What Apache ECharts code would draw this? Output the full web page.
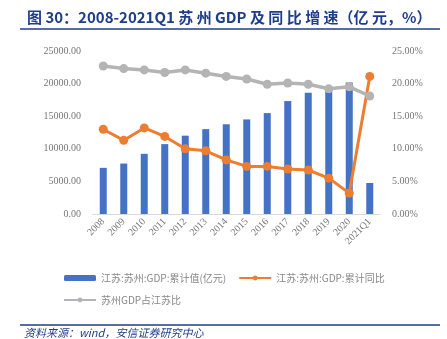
<!DOCTYPE html>
<html><head><meta charset="utf-8">
<script src="https://cdn.jsdelivr.net/npm/echarts@6/dist/echarts.min.js"></script>
<style>html,body{margin:0;padding:0;background:#fff}#c{width:447px;height:339px}</style>
</head><body><div id="c"></div>
<script>
const categories = ['2008','2009','2010','2011','2012','2013','2014','2015','2016','2017','2018','2019','2020','2021Q1'];
const gdpValues = [7078, 7740, 9229, 10717, 12012, 13016, 13761, 14504, 15475, 17320, 18597, 19236, 20171, 4759];
const gdpGrowth = [13.0, 11.3, 13.2, 11.9, 10.0, 9.7, 8.3, 7.3, 7.3, 6.9, 6.75, 5.5, 3.2, 21.1];
const shareOfJiangsu = [22.7, 22.3, 22.1, 21.7, 22.1, 21.6, 21.1, 20.7, 19.9, 20.1, 19.9, 19.2, 19.5, 18.1];
const leftTicks = [0, 5000, 10000, 15000, 20000, 25000];
const rightTicks = [0, 5, 10, 15, 20, 25];

const chart = echarts.init(document.getElementById('c'));
const serif = '"Liberation Serif", "DejaVu Serif", serif';
const cjk = '"Noto Sans CJK SC", sans-serif';
chart.setOption({
  animation: false,
  title: {
    text: '图 30：2008-2021Q1 苏 州 GDP 及 同 比 增 速（亿 元，%）',
    left: 22, top: 5,
    textStyle: {fontSize: 15, fontWeight: 'bold', color: '#1f3d8a', fontFamily: cjk}
  },
  graphic: [
    {type: 'line', shape: {x1: 20, y1: 29, x2: 440, y2: 29}, style: {stroke: '#1f3d8a', lineWidth: 1.5}},
    {type: 'line', shape: {x1: 20, y1: 325, x2: 440, y2: 325}, style: {stroke: '#1f3d8a', lineWidth: 1.5}},
    {type: 'text', left: 24, top: 327, style: {text: '资料来源：wind，安信证券研究中心', fill: '#1f3d8a', font: 'italic 11px "Noto Sans CJK SC", sans-serif'}}
  ],
  legend: {
    left: 58, top: 268, width: 380,
    itemWidth: 32, itemHeight: 6, itemGap: 12,
    textStyle: {fontSize: 10, color: '#888', fontFamily: cjk},
    data: [
      {name: '江苏:苏州:GDP:累计值(亿元)'},
      {name: '江苏:苏州:GDP:累计同比'},
      {name: '苏州GDP占江苏比'}
    ]
  },
  grid: {left: 93, right: 67, top: 51, bottom: 125},
  xAxis: {
    type: 'category', data: categories,
    axisLine: {lineStyle: {color: '#d9d9d9'}},
    axisTick: {show: false},
    axisLabel: {rotate: 45, interval: 0, fontSize: 10, color: '#777', fontFamily: serif, margin: 6}
  },
  yAxis: [
    {type: 'value', min: 0, max: 25000, interval: 5000,
     splitLine: {show: false}, axisLine: {show: false}, axisTick: {show: false},
     axisLabel: {fontSize: 10, color: '#777', fontFamily: serif, margin: 12, formatter: v => v.toFixed(2)}},
    {type: 'value', min: 0, max: 25, interval: 5,
     splitLine: {show: false}, axisLine: {show: false}, axisTick: {show: false},
     axisLabel: {fontSize: 10, color: '#777', fontFamily: serif, margin: 12, formatter: v => v.toFixed(2) + '%'}}
  ],
  series: [
    {name: '江苏:苏州:GDP:累计值(亿元)', type: 'bar', data: gdpValues, barWidth: 7,
     itemStyle: {color: '#4472c4'}},
    {name: '江苏:苏州:GDP:累计同比', type: 'line', yAxisIndex: 1, data: gdpGrowth,
     symbol: 'circle', symbolSize: 9, lineStyle: {width: 3, color: '#ed7d31'}, itemStyle: {color: '#ed7d31'}, z: 3},
    {name: '苏州GDP占江苏比', type: 'line', yAxisIndex: 1, data: shareOfJiangsu,
     symbol: 'circle', symbolSize: 9, lineStyle: {width: 3.5, color: '#b4b4b4'}, itemStyle: {color: '#b4b4b4'}, z: 4}
  ]
});
</script></body></html>
